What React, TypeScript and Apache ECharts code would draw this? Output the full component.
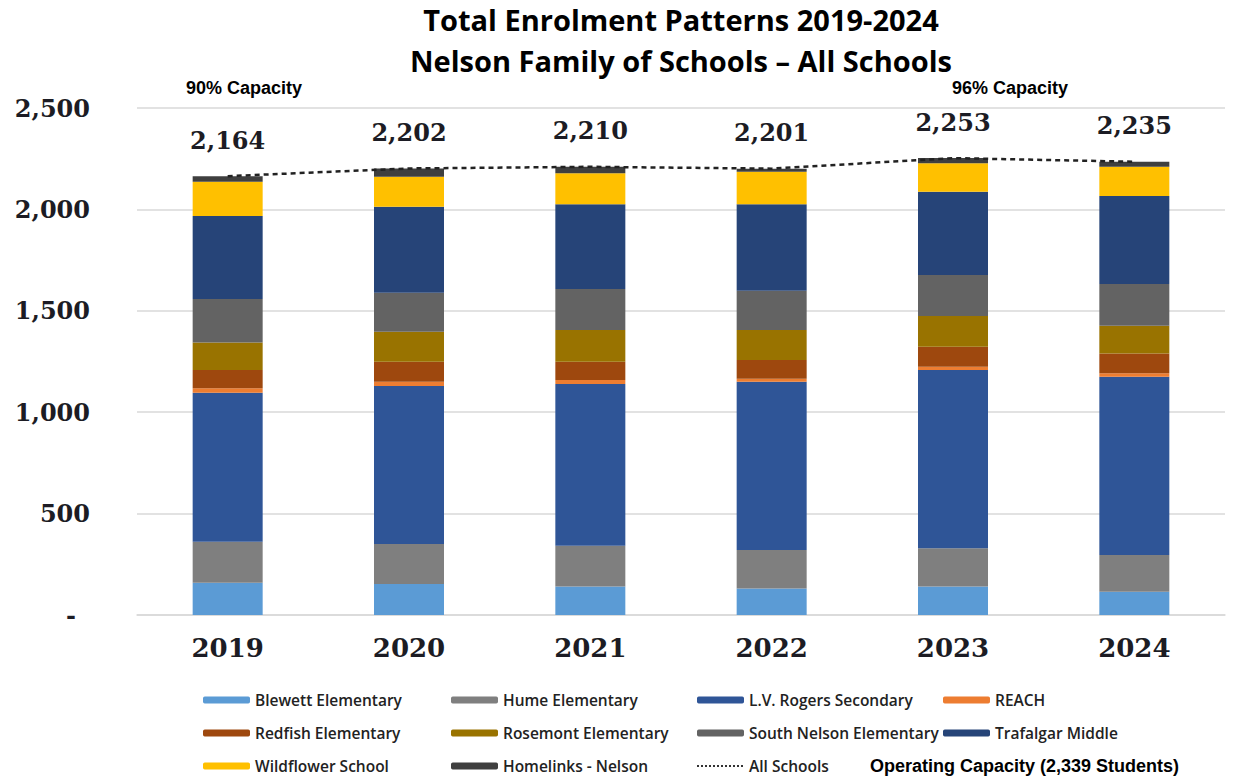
import React, { useEffect, useRef } from "react";
import * as echarts from "echarts";

const years = ["2019", "2020", "2021", "2022", "2023", "2024"];
const blewett = [159, 153, 140, 131, 140, 115];
const hume = [202, 197, 202, 189, 189, 181];
const lvRogers = [735, 779, 797, 830, 879, 879];
const reach = [22, 21, 20, 15, 16, 17];
const redfish = [90, 99, 90, 92, 99, 98];
const rosemont = [136, 148, 156, 148, 151, 136];
const southNelson = [214, 192, 202, 194, 202, 206];
const trafalgar = [409, 424, 418, 426, 411, 434];
const wildflower = [169, 148, 153, 161, 140, 144];
const homelinks = [28, 41, 32, 15, 26, 25];
const allSchools = [2164, 2202, 2210, 2201, 2253, 2235];
const yTicks = [0, 500, 1000, 1500, 2000, 2500];

const barSeries = [
  { name: "Blewett Elementary", data: blewett, color: "#5B9BD5" },
  { name: "Hume Elementary", data: hume, color: "#7F7F7F" },
  { name: "L.V. Rogers Secondary", data: lvRogers, color: "#2F5597" },
  { name: "REACH", data: reach, color: "#ED7D31" },
  { name: "Redfish Elementary", data: redfish, color: "#9E480E" },
  { name: "Rosemont Elementary", data: rosemont, color: "#997300" },
  { name: "South Nelson Elementary", data: southNelson, color: "#636363" },
  { name: "Trafalgar Middle", data: trafalgar, color: "#264478" },
  { name: "Wildflower School", data: wildflower, color: "#FFC000" },
  { name: "Homelinks - Nelson", data: homelinks, color: "#3F3F3F" },
];

const legendColumns = [
  ["Blewett Elementary", "Redfish Elementary", "Wildflower School"],
  ["Hume Elementary", "Rosemont Elementary", "Homelinks - Nelson"],
  ["L.V. Rogers Secondary", "South Nelson Elementary", "All Schools"],
  ["REACH", "Trafalgar Middle"],
];
const legendLefts = [203, 451, 696, 943];

const fmt = (v: number) =>
  v === 0 ? "{dash|-}" : v.toLocaleString("en-US");

export default function App() {
  const ref = useRef<HTMLDivElement>(null);
  useEffect(() => {
    if (!ref.current) return;
    const chart = echarts.init(ref.current, null, { renderer: "svg" });
    const serifLabel = {
      fontFamily: "DejaVu Serif",
      fontWeight: "bold" as const,
      color: "#1c1c24",
    };
    const series: any[] = barSeries.map((s, i) => ({
      name: s.name,
      type: "bar",
      stack: "total",
      barWidth: 70,
      data: s.data,
      itemStyle: { color: s.color },
      z: 2,
      label:
        i === barSeries.length - 1
          ? {
              show: true,
              position: "top",
              distance: 24,
              fontSize: 24,
              ...serifLabel,
              formatter: (p: any) => allSchools[p.dataIndex].toLocaleString("en-US"),
            }
          : { show: false },
    }));
    series.push({
      name: "All Schools",
      type: "line",
      data: allSchools,
      symbol: "none",
      z: 5,
      lineStyle: { color: "#222", width: 2.5, type: [5, 4] },
      itemStyle: { color: "#222" },
    });

    const boldSans = { fontFamily: "Liberation Sans", fontWeight: "bold" as const, fontSize: 18, color: "#000" };
    const titleStyle = { fontFamily: "Open Sans", fontWeight: "bold" as const, fontSize: 29, color: "#000" };

    chart.setOption({
      animation: false,
      backgroundColor: "#fff",
      title: [
        { text: "Total Enrolment Patterns 2019-2024", left: 681, top: 5, padding: 0, textAlign: "center", textStyle: titleStyle },
        { text: "Nelson Family of Schools – All Schools", left: 681, top: 46, padding: 0, textAlign: "center", textStyle: titleStyle },
        { text: "90% Capacity", left: 186, top: 79, padding: 0, textStyle: boldSans },
        { text: "96% Capacity", left: 952, top: 79, padding: 0, textStyle: boldSans },
        { text: "Operating Capacity (2,339 Students)", left: 870, top: 757, padding: 0, textStyle: boldSans },
      ],
      legend: legendColumns.map((col, i) => ({
        orient: "vertical",
        left: legendLefts[i],
        top: 692,
        padding: 0,
        itemWidth: 47,
        itemHeight: 7,
        itemGap: 17,
        data: col.map((n) =>
          n === "All Schools"
            ? { name: n, itemStyle: { opacity: 0 }, lineStyle: { type: [2, 2], width: 2, color: "#333" } }
            : { name: n }
        ),
        selectedMode: false,
        textStyle: { fontFamily: "Open Sans", fontWeight: 600, fontSize: 15.5, color: "#222" },
      })),
      grid: { left: 137, right: 29, top: 108, bottom: 163, containLabel: false },
      xAxis: {
        type: "category",
        data: years,
        axisLine: { lineStyle: { color: "#d9d9d9", width: 1.5 } },
        axisTick: { show: false },
        axisLabel: { fontSize: 26, margin: 20, ...serifLabel },
      },
      yAxis: {
        type: "value",
        min: yTicks[0],
        max: yTicks[yTicks.length - 1],
        interval: 500,
        axisLine: { show: false },
        axisTick: { show: false },
        splitLine: { lineStyle: { color: "#d9d9d9", width: 1.5 } },
        axisLabel: {
          fontSize: 24,
          margin: 47,
          ...serifLabel,
          formatter: fmt,
          rich: { dash: { fontSize: 24, ...serifLabel, padding: [0, 14, 0, 0] } },
        },
      },
      series,
    });
    return () => chart.dispose();
  }, []);
  return (
    <div
      ref={ref}
      style={{ position: "fixed", left: 0, top: 0, width: 1254, height: 778 }}
    />
  );
}
